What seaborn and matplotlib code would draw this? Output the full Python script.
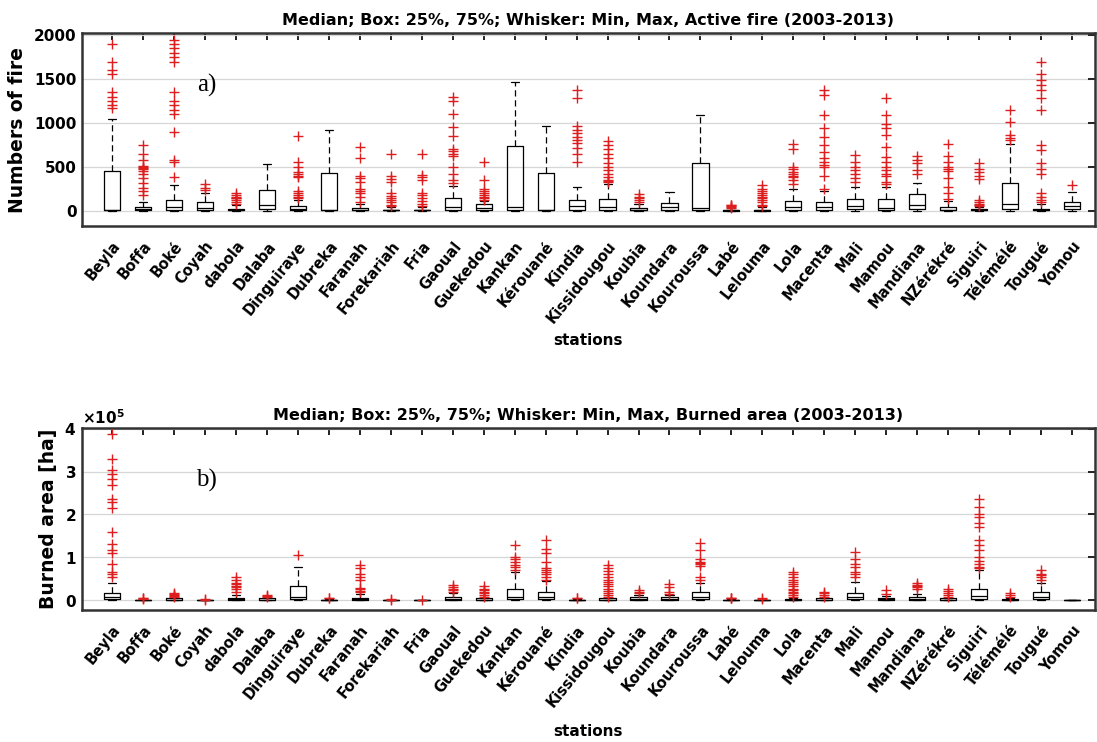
import numpy as np
import pandas as pd
import matplotlib
matplotlib.use("Agg")
import matplotlib.pyplot as plt
from matplotlib.ticker import ScalarFormatter
from matplotlib.transforms import ScaledTranslation
import seaborn as sns

stations = ["Beyla", "Boffa", "Boké", "Coyah", "dabola", "Dalaba", "Dinguiraye",
            "Dubreka", "Faranah", "Forekariah", "Fria", "Gaoual", "Guekedou",
            "Kankan", "Kérouané", "Kindia", "Kissidougou", "Koubia", "Koundara",
            "Kouroussa", "Labé", "Lelouma", "Lola", "Macenta", "Mali", "Mamou",
            "Mandiana", "NZérékré", "Siguiri", "Télémélé", "Tougué", "Yomou"]

# Active fire counts: whisker min, 25%, median, 75%, whisker max
fire_min = [0] * 32
fire_q1 = [2, 5, 8, 5, 2, 15, 5, 2, 3, 2, 2, 10, 5, 5, 2, 10,
           10, 3, 10, 5, 1, 1, 10, 10, 15, 10, 15, 3, 2, 20, 2, 15]
fire_med = [10, 15, 40, 25, 8, 65, 20, 8, 10, 5, 5, 45, 25, 40, 10, 50,
            45, 10, 38, 25, 5, 5, 45, 40, 55, 30, 65, 12, 5, 80, 5, 50]
fire_q3 = [450, 45, 120, 100, 20, 235, 50, 435, 30, 12, 12, 150, 80, 740, 430, 120,
           130, 25, 90, 545, 10, 12, 115, 100, 135, 135, 190, 40, 15, 320, 15, 100]
fire_max = [1050, 95, 290, 200, 60, 530, 120, 920, 80, 40, 40, 280, 110, 1470, 965, 265,
            300, 80, 215, 1090, 25, 40, 250, 220, 270, 270, 320, 110, 40, 760, 80, 210]
fire_outliers = [
    [1170, 1200, 1250, 1300, 1350, 1560, 1600, 1700, 1900],
    [180, 220, 260, 320, 370, 420, 450, 480, 490, 500, 510, 580, 650, 750],
    [380, 550, 580, 900, 1100, 1150, 1200, 1250, 1350, 1700, 1750, 1800, 1850, 1900, 1950],
    [230, 260, 300],
    [80, 100, 120, 140, 150, 160, 180, 200],
    [],
    [140, 160, 180, 200, 220, 380, 400, 420, 440, 500, 560, 850],
    [],
    [100, 160, 200, 220, 250, 330, 370, 400, 600, 730],
    [50, 70, 100, 120, 150, 170, 200, 330, 360, 390, 650],
    [50, 80, 110, 150, 180, 200, 350, 380, 410, 650],
    [320, 350, 420, 500, 620, 650, 680, 700, 850, 950, 1100, 1250, 1300],
    [120, 140, 160, 180, 200, 220, 250, 350, 560],
    [],
    [],
    [560, 650, 710, 770, 800, 840, 880, 920, 960, 1280, 1370],
    [330, 340, 350, 380, 420, 460, 500, 540, 600, 650, 700, 750, 790],
    [100, 120, 140, 160, 190],
    [],
    [],
    [30, 40, 50, 60, 70],
    [50, 70, 100, 120, 140, 160, 180, 200, 220, 250, 290],
    [300, 350, 380, 400, 420, 440, 470, 500, 700, 760],
    [250, 400, 500, 520, 560, 600, 670, 750, 840, 940, 1090, 1320, 1370],
    [330, 370, 420, 460, 500, 560, 630],
    [300, 330, 390, 420, 460, 500, 560, 610, 730, 860, 940, 990, 1090, 1280],
    [420, 460, 540, 580, 620],
    [130, 200, 270, 370, 450, 470, 500, 560, 620, 760],
    [50, 60, 80, 100, 120, 360, 400, 440, 480, 540],
    [800, 830, 860, 1010, 1150],
    [100, 120, 160, 200, 420, 480, 540, 690, 750, 1150, 1280, 1370, 1430, 1490, 1560, 1700],
    [290],
]

# Burned area [ha]: whisker min, 25%, median, 75%, whisker max
area_min = [0] * 32
area_q1 = [2000, 100, 300, 50, 500, 300, 2000, 100, 500, 50, 50, 1000, 300, 3000, 2000, 100,
           300, 1000, 800, 2000, 100, 100, 300, 300, 3000, 500, 800, 300, 3000, 200, 2000, 0]
area_med = [8000, 500, 1500, 200, 2000, 1500, 8000, 500, 2500, 200, 200, 3000, 1500, 8000, 7000, 500,
            1500, 3000, 2500, 8000, 500, 500, 1000, 1500, 8000, 2000, 3000, 1500, 9000, 1000, 8000, 0]
area_q3 = [17000, 1500, 4000, 500, 5000, 4000, 33000, 1500, 6000, 500, 500, 8000, 4000, 25000, 19000, 1500,
           4000, 8000, 7000, 19000, 1500, 1500, 3000, 4000, 17000, 5000, 7000, 4000, 27000, 3000, 19000, 0]
area_max = [40000, 3000, 7000, 1000, 12000, 7000, 78000, 3000, 14000, 1000, 1000, 16000, 7000, 66000, 45000, 3000,
            7000, 13000, 11000, 40000, 3000, 3000, 6000, 7000, 43000, 10000, 15000, 6000, 70000, 6000, 40000, 0]
area_outliers = [
    [55000, 60000, 66000, 85000, 110000, 117000, 132000, 160000, 215000, 230000,
     237000, 268000, 283000, 295000, 303000, 330000, 388000],
    [3500, 4500, 5500],
    [8000, 10000, 12000, 14000, 16000],
    [1500, 2500],
    [20000, 27000, 30000, 33000, 37000, 40000, 47000, 54000],
    [8000, 10000, 12000],
    [105000],
    [4000, 5000],
    [19000, 22000, 25000, 28000, 47000, 54000, 62000, 74000, 82000],
    [1500, 2000],
    [1500],
    [20000, 23000, 27000, 31000, 36000],
    [8000, 12000, 16000, 20000, 24000, 27000, 32000],
    [70000, 78000, 82000, 89000, 95000, 101000, 128000],
    [47000, 54000, 60000, 65000, 70000, 75000, 90000, 109000, 120000, 140000],
    [4000, 5000],
    [8000, 12000, 16000, 21000, 27000, 33000, 37000, 42000, 47000, 54000, 62000, 68000, 74000, 82000],
    [16000, 19000, 23000],
    [15000, 19000, 30000, 37000],
    [47000, 54000, 80000, 85000, 87000, 90000, 95000, 117000, 134000],
    [4000, 5000, 6000],
    [3500, 4500],
    [8000, 12000, 16000, 19000, 23000, 27000, 32000, 37000, 42000, 47000, 54000, 60000, 66000],
    [8000, 12000, 16000, 19000],
    [54000, 60000, 66000, 78000, 85000, 97000, 113000],
    [15000, 23000],
    [25000, 30000, 33000, 36000, 39000],
    [8000, 12000, 16000, 22000, 27000],
    [75000, 78000, 85000, 92000, 101000, 117000, 128000, 140000, 170000, 179000,
     194000, 202000, 217000, 237000],
    [8000, 12000, 16000],
    [47000, 54000, 58000, 62000, 70000],
    [],
]


def five_number_frame(lo, q1, med, q3, hi):
    rows = []
    for i, s in enumerate(stations):
        for v in (lo[i], q1[i], med[i], q3[i], hi[i]):
            rows.append((s, v))
    return pd.DataFrame(rows, columns=["station", "value"])


def outlier_frame(outs):
    rows = [(s, v) for s, vals in zip(stations, outs) for v in vals]
    return pd.DataFrame(rows, columns=["station", "value"])


sns.set_style("white")
plt.rcParams["font.family"] = ["DejaVu Sans"]
plt.rcParams.update({"text.color": "black", "axes.labelcolor": "black",
                     "xtick.color": "black", "ytick.color": "black",
                     "mathtext.default": "bf"})

fig = plt.figure(figsize=(10.97, 7.42), dpi=100)
ax_a = fig.add_axes([0.0747, 0.6954, 0.9235, 0.2601])
ax_b = fig.add_axes([0.0747, 0.1779, 0.9235, 0.2453])

panels = [
    (ax_a, five_number_frame(fire_min, fire_q1, fire_med, fire_q3, fire_max),
     outlier_frame(fire_outliers),
     "Median; Box: 25%, 75%; Whisker: Min, Max, Active fire (2003-2013)",
     "Numbers of fire", (-175, 2025), [0, 500, 1000, 1500, 2000], "a)", 1430, 5),
    (ax_b, five_number_frame(area_min, area_q1, area_med, area_q3, area_max),
     outlier_frame(area_outliers),
     "Median; Box: 25%, 75%; Whisker: Min, Max, Burned area (2003-2013)",
     "Burned area [ha]", (-23000, 402000), [0, 100000, 200000, 300000, 400000], "b)", 280000, 10),
]

shift_left = ScaledTranslation(-5 / 72, 0, fig.dpi_scale_trans)

for ax, stats_df, out_df, title, ylabel, ylim, yticks, tag, tag_y, xpad in panels:
    ax.grid(True, color="#d6d6d6", linewidth=0.9)
    ax.set_axisbelow(True)
    sns.boxplot(data=stats_df, x="station", y="value", order=stations,
                whis=(0, 100), width=0.52, fill=False, color="black",
                linewidth=0.9, whiskerprops=dict(linestyle=(0, (5, 3))),
                medianprops=dict(color="black"), ax=ax)
    sns.stripplot(data=out_df, x="station", y="value", order=stations,
                  jitter=False, marker="+", color="#dc1e1e", size=7,
                  linewidth=1.0, ax=ax)
    ax.set_xlim(-0.97, 31.74)
    ax.set_ylim(*ylim)
    ax.set_yticks(yticks)
    ax.set_title(title, fontsize=11.5, fontweight="bold", pad=6)
    ax.set_ylabel(ylabel, fontsize=13.5, fontweight="bold", labelpad=5)
    ax.set_xlabel("stations", fontsize=11, fontweight="bold", labelpad=xpad)
    ax.set_xticks(range(len(stations)))
    ax.set_xticklabels(stations, rotation=51, ha="right", rotation_mode="anchor",
                       fontsize=10.5, fontweight="bold")
    for lab in ax.get_xticklabels():
        lab.set_transform(lab.get_transform() + shift_left)
    for lab in ax.get_yticklabels():
        lab.set_fontweight("bold")
        lab.set_fontsize(11)
    ax.tick_params(axis="both", direction="in", top=True, right=True,
                   length=5, width=1.4, color="#222222", pad=4)
    ax.tick_params(axis="x", pad=9)
    for sp in ax.spines.values():
        sp.set_visible(True)
        sp.set_color("#333333")
        sp.set_linewidth(1.8)
    ax.text(3.05, tag_y, tag, fontsize=18, family="Liberation Serif",
            ha="center", va="center")

fmt = ScalarFormatter(useMathText=True)
fmt.set_powerlimits((0, 0))
ax_b.yaxis.set_major_formatter(fmt)
ax_b.yaxis.get_offset_text().set_fontweight("bold")
ax_b.yaxis.get_offset_text().set_fontsize(11)

fig.savefig("out.png", dpi=100)
